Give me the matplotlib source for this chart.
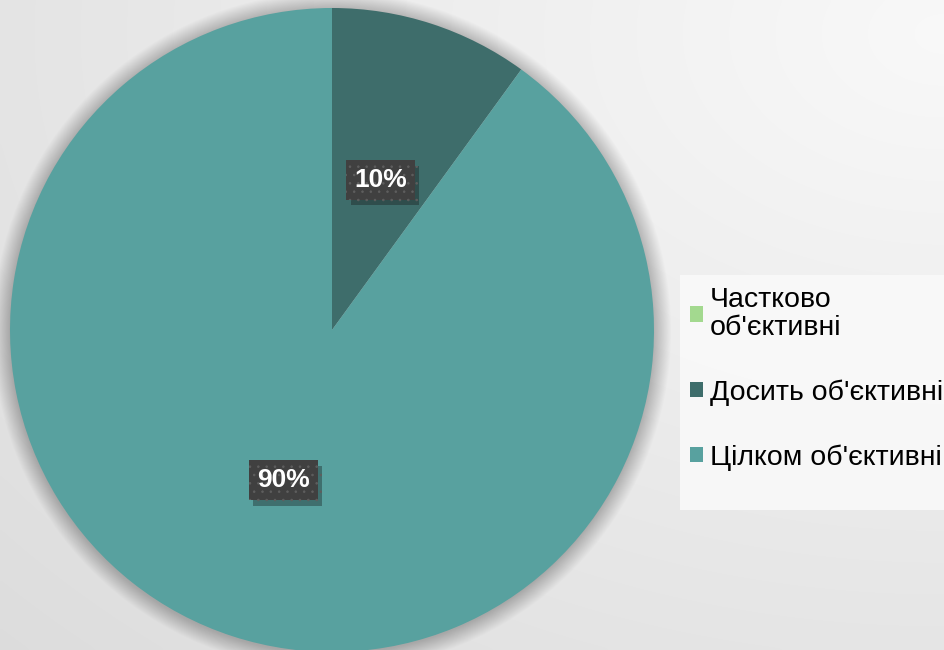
import numpy as np
import matplotlib
matplotlib.use("Agg")
import matplotlib.pyplot as plt
from matplotlib.patches import Patch, Circle, Rectangle
import matplotlib.patheffects as pe

plt.rcParams['font.family'] = ['Liberation Sans', 'DejaVu Sans']
plt.rcParams['hatch.linewidth'] = 0.6

# дані
categories = ["Частково\nоб'єктивні", "Досить об'єктивні", "Цілком об'єктивні"]
values = [0, 10, 90]
colors = ['#a3d98f', '#3e6d6b', '#58a19f']

W, H = 945, 650
fig = plt.figure(figsize=(W / 100, H / 100), dpi=100)

# фон з градієнтом
bg = fig.add_axes([0, 0, 1, 1], zorder=-10)
xx, yy = np.meshgrid(np.linspace(0, 1, 300), np.linspace(0, 1, 200))
d = np.sqrt((xx - 1.0) ** 2 + (yy - 0.05) ** 2)
g = 0.975 - 0.11 * d / d.max()
bg.imshow(np.dstack([g, g, g]), aspect='auto',
          extent=[0, 1, 0, 1], interpolation='bicubic')
bg.axis('off')

# кругова діаграма
cx, cy, r = 332, 330, 322
ax = fig.add_axes([(cx - r) / W, (H - cy - r) / H, 2 * r / W, 2 * r / H])

# тінь
for k in range(20):
    ax.add_patch(Circle((0.0, -0.004), 1 + k * 0.0028, color='black',
                        alpha=0.011, lw=0, zorder=0, clip_on=False))

def fmt(p):
    return '' if p < 0.5 else '%d%%' % round(p)

wedges, texts, autotexts = ax.pie(values, colors=colors, startangle=90,
                                  counterclock=False, autopct=fmt,
                                  pctdistance=0.49, radius=1,
                                  wedgeprops=dict(linewidth=0))
ax.set_xlim(-1, 1)
ax.set_ylim(-1, 1)
ax.set_aspect('equal')
ax.axis('off')
for w in wedges:
    w.set_zorder(2)
for t in autotexts:
    t.set_color('white')
    t.set_fontsize(19)
    t.set_fontweight('bold')
    t.set_zorder(5)
    t.set_bbox(dict(boxstyle='square,pad=0.3', facecolor='#404040',
                    edgecolor='#5e5e5e', linewidth=0, hatch='..',
                    path_effects=[pe.SimplePatchShadow(offset=(3, -4), alpha=0.35),
                                  pe.Normal()]))

# легенда
fig.patches.append(Rectangle((680 / W, 1 - 510 / H), 265 / W, 235 / H,
                             transform=fig.transFigure, facecolor='#fafafa',
                             edgecolor='none', alpha=0.85, zorder=0))
handles = [Patch(facecolor=c, edgecolor='none') for c in colors]
leg = fig.legend(handles, categories, loc='upper left',
                 bbox_to_anchor=(690 / W, 1 - 287 / H),
                 frameon=False, fontsize=20.5, handlelength=0.45, handleheight=0.45,
                 handletextpad=0.25, labelspacing=1.35, borderpad=0,
                 borderaxespad=0)
for t in leg.get_texts():
    t.set_linespacing(1.1)

fig.savefig('out.png', dpi=100)
